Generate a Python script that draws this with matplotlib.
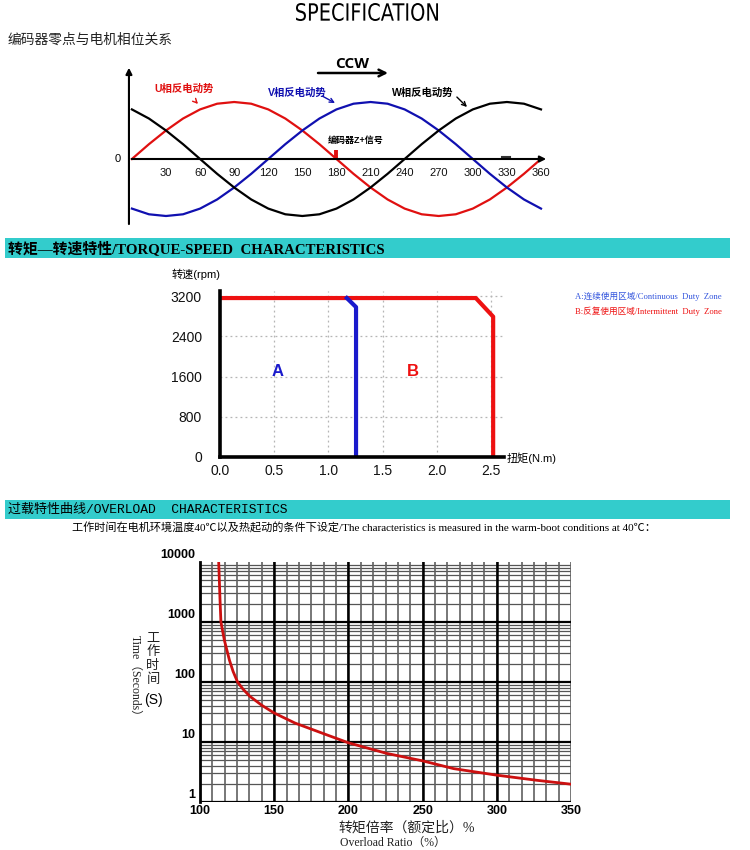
import numpy as np
import matplotlib
matplotlib.use('Agg')
import matplotlib.pyplot as plt
from matplotlib.patches import Rectangle, PathPatch
from matplotlib.textpath import TextPath
from matplotlib.font_manager import FontProperties
from matplotlib.transforms import Affine2D, IdentityTransform, ScaledTranslation

plt.rcParams['font.family'] = ['Liberation Sans', 'Noto Sans CJK SC', 'DejaVu Sans']

W, H = 750, 850

# --- phase diagram (back EMF, read every 15 deg) ---
phase_deg = [0, 15, 30, 45, 60, 75, 90, 105, 120, 135, 150, 165, 180,
             195, 210, 225, 240, 255, 270, 285, 300, 315, 330, 345, 360]
u_emf = [0, 0.26, 0.50, 0.71, 0.87, 0.97, 1.00, 0.97, 0.87, 0.71, 0.50, 0.26, 0,
         -0.26, -0.50, -0.71, -0.87, -0.97, -1.00, -0.97, -0.87, -0.71, -0.50, -0.26, 0]
v_emf = [-0.87, -0.97, -1.00, -0.97, -0.87, -0.71, -0.50, -0.26, 0, 0.26, 0.50, 0.71, 0.87,
         0.97, 1.00, 0.97, 0.87, 0.71, 0.50, 0.26, 0, -0.26, -0.50, -0.71, -0.87]
w_emf = [0.87, 0.71, 0.50, 0.26, 0, -0.26, -0.50, -0.71, -0.87, -0.97, -1.00, -0.97, -0.87,
         -0.71, -0.50, -0.26, 0, 0.26, 0.50, 0.71, 0.87, 0.97, 1.00, 0.97, 0.87]
deg_ticks = [30, 60, 90, 120, 150, 180, 210, 240, 270, 300, 330, 360]

# --- torque-speed ---
torque_ticks = [0.0, 0.5, 1.0, 1.5, 2.0, 2.5]
speed_ticks = [0, 800, 1600, 2400, 3200]
cont_torque = [1.17, 1.255, 1.255]
cont_speed = [3160, 2980, 0]
peak_torque = [0, 2.36, 2.52, 2.52]
peak_speed = [3160, 3160, 2790, 0]

# --- overload ---
ratio = [112.6, 113.5, 114.1, 116.4, 119.8, 122.3, 125.3, 129, 133.5, 141.6, 149.9,
         164, 186, 200, 225.9, 250, 270.9, 300, 327, 350]
op_time = [10000, 2300, 1000, 500, 233, 150, 100, 76, 58, 41, 30.5,
           20.7, 13, 9.7, 6.45, 4.85, 3.6, 2.8, 2.3, 1.98]
ratio_ticks = [100, 150, 200, 250, 300, 350]
time_ticks = [1, 10, 100, 1000, 10000]


def rect(l, t, r, b):
    return [l / W, 1 - b / H, (r - l) / W, (b - t) / H]


def fp(x, y):
    return (x, H - y)


fig = plt.figure(figsize=(7.5, 8.5), dpi=100)

# title, squeezed to the narrow look of the original
tp = TextPath((0, 0), 'SPECIFICATION', size=20, prop=FontProperties(family='DejaVu Sans'))
ext = tp.get_extents()
tr = Affine2D().translate(-ext.x0, -ext.y0).scale(142 / ext.width, 18 / ext.height).translate(296, H - 21)
fig.add_artist(PathPatch(tr.transform_path(tp), facecolor='black', edgecolor='none',
                         transform=IdentityTransform()))

fig.text(8 / W, 1 - 40 / H, '编码器零点与电机相位关系', fontsize=9.9,
         family=['Noto Sans CJK SC'], va='center', color='#222222')

# ---------------- phase chart ----------------
ax0 = fig.add_axes(rect(100, 50, 560, 232))
ax0.set_xlim((100 - 131.9) / 1.1364, (560 - 131.9) / 1.1364)
ax0.set_ylim((159 - 232) / 57, (159 - 50) / 57)
ax0.axis('off')

ax0.plot(phase_deg, u_emf, color='#e01010', lw=1.6)
ax0.plot(phase_deg, v_emf, color='#1010b0', lw=1.6)
ax0.plot(phase_deg, w_emf, color='black', lw=1.6)

ax0.annotate('', xy=(367, 0), xytext=(-2.6, 0),
             arrowprops=dict(arrowstyle='-|>', color='black', lw=1.5, mutation_scale=9))
ax0.annotate('', xy=(-2.6, 1.65), xytext=(-2.6, -1.19),
             arrowprops=dict(arrowstyle='-|>', color='black', lw=1.5, mutation_scale=9))
for d in deg_ticks:
    ax0.text(d, -0.25, str(d), ha='center', va='center', fontsize=8, color='#111111')
ax0.text(-12.5, 0, '0', ha='center', va='center', fontsize=8)
ax0.plot([180, 180], [0, 0.16], color='#e01010', lw=2.8, solid_capstyle='butt')
ax0.plot([325.7, 332.7], [0.035, 0.035], color='#333333', lw=1.5)

bold_cjk = dict(fontweight='bold', family=['Liberation Sans', 'Noto Sans CJK SC'])
ax0.annotate('U相反电动势', xy=fp(198, 104), xytext=fp(184, 89), xycoords='figure pixels',
             textcoords='figure pixels', ha='center', va='center', fontsize=7.5,
             color='#e01010', arrowprops=dict(arrowstyle='->', color='#e01010', lw=1.0,
                                              shrinkA=5, shrinkB=0), **bold_cjk)
ax0.annotate('V相反电动势', xy=fp(335, 103), xytext=fp(297, 93), xycoords='figure pixels',
             textcoords='figure pixels', ha='center', va='center', fontsize=7.5,
             color='#1010b0', arrowprops=dict(arrowstyle='->', color='#1010b0', lw=1.0,
                                              shrinkA=0, shrinkB=0,
                                              patchA=None, relpos=(0.93, 0.2)), **bold_cjk)
ax0.annotate('W相反电动势', xy=fp(467, 107), xytext=fp(423, 93), xycoords='figure pixels',
             textcoords='figure pixels', ha='center', va='center', fontsize=7.5,
             color='black', arrowprops=dict(arrowstyle='->', color='black', lw=1.0,
                                            shrinkA=0, shrinkB=0, relpos=(1.05, 0.1)), **bold_cjk)
fig.text(356 / W, 1 - 140 / H, '编码器Z+信号', ha='center', va='center', fontsize=6.5, **bold_cjk)
fig.text(352 / W, 1 - 64 / H, 'CCW', ha='center', va='center', fontsize=11, fontweight='bold',
         family=['Open Sans', 'DejaVu Sans'])
ax0.annotate('', xy=fp(388, 73), xytext=fp(318, 73), xycoords='figure pixels',
             textcoords='figure pixels',
             arrowprops=dict(arrowstyle='->', color='black', lw=1.8, mutation_scale=12,
                             shrinkA=0, shrinkB=0))

# ---------------- section bars ----------------
teal = '#33cccc'
fig.add_artist(Rectangle((5 / W, 1 - 258 / H), 725 / W, 20 / H, transform=fig.transFigure,
                         facecolor=teal, edgecolor='none'))
fig.text(8 / W, 1 - 248.5 / H, '转矩—转速特性/TORQUE-SPEED  CHARACTERISTICS', fontsize=10.7,
         fontweight='bold', va='center', family=['Liberation Serif', 'Noto Sans CJK SC'])
fig.add_artist(Rectangle((5 / W, 1 - 519 / H), 725 / W, 19 / H, transform=fig.transFigure,
                         facecolor=teal, edgecolor='none'))
fig.text(8 / W, 1 - 509.5 / H, '过载特性曲线/OVERLOAD  CHARACTERISTICS', fontsize=9.4,
         va='center', family=['Liberation Mono', 'Noto Sans CJK SC'])
fig.text(72 / W, 1 - 528 / H,
         '工作时间在电机环境温度40℃以及热起动的条件下设定/The characteristics is measured in the warm-boot conditions at 40℃：',
         fontsize=8.0, va='center', family=['Liberation Serif', 'Noto Sans CJK SC'])

# ---------------- torque-speed chart ----------------
ax1 = fig.add_axes(rect(220, 291, 504, 457))
ax1.set_xlim(0, 2.62)
ax1.set_ylim(0, 3300)
ax1.set_xticks(torque_ticks)
ax1.set_xticklabels([f'{t:.1f}' for t in torque_ticks])
ax1.set_yticks(speed_ticks)
ax1.grid(True, color='#b5b5b5', linestyle=(0, (1.5, 2.5)), linewidth=0.9)
ax1.tick_params(axis='both', length=0, labelsize=10, labelcolor='#111111')
ax1.tick_params(axis='y', pad=13)
ax1.tick_params(axis='x', pad=5)
for s in ['top', 'right']:
    ax1.spines[s].set_visible(False)
for s in ['left', 'bottom']:
    ax1.spines[s].set_linewidth(2.6)
    ax1.spines[s].set_zorder(5)
ax1.plot(peak_torque, peak_speed, color='#ee1111', lw=3, zorder=3)
ax1.plot(cont_torque, cont_speed, color='#1a1acc', lw=3, zorder=4)
ax1.text(0.53, 1700, 'A', color='#1a1acc', fontsize=12, fontweight='bold', ha='center', va='center')
ax1.text(1.78, 1700, 'B', color='#ee1111', fontsize=12, fontweight='bold', ha='center', va='center')
fig.text(172 / W, 1 - 274 / H, '转速(rpm)', fontsize=8, va='center',
         family=['Liberation Sans', 'Noto Sans CJK SC'])
fig.text(507 / W, 1 - 458 / H, '扭矩(N.m)', fontsize=8, va='center',
         family=['Liberation Sans', 'Noto Sans CJK SC'])
serif_cjk = ['Liberation Serif', 'Noto Sans CJK SC']
fig.text(575 / W, 1 - 296 / H, 'A:连续使用区域/Continuous  Duty  Zone', fontsize=6.2,
         color='#3355dd', va='center', family=serif_cjk)
fig.text(575 / W, 1 - 311 / H, 'B:反复使用区域/Intermittent  Duty  Zone', fontsize=6.2,
         color='#ee1111', va='center', family=serif_cjk)

# ---------------- overload chart ----------------
ax2 = fig.add_axes(rect(200, 562, 571, 802))
ax2.set_yscale('log')
ax2.set_xlim(100, 350)
ax2.set_ylim(1, 10000)
for s in ['top', 'right', 'bottom']:
    ax2.spines[s].set_visible(False)
ax2.spines['left'].set_linewidth(2)

minor_y = [m * 10 ** e for e in range(4) for m in range(2, 10)]
for yv in minor_y:
    ax2.axhline(yv, color='#555555', lw=0.9, zorder=1)
for yv in time_ticks[:-1]:
    ax2.axhline(yv, color='black', lw=1.6, zorder=2)
minor_x = [100 + k * 50 / 6 for k in range(1, 31)]
for xv in minor_x:
    ax2.axvline(xv, color='#606060', lw=1.2, zorder=1)
for xv in ratio_ticks[1:-1]:
    ax2.axvline(xv, color='black', lw=1.8, zorder=2)

ax2.plot(ratio, op_time, color='#cc1010', lw=2, zorder=4)

ax2.set_xticks(ratio_ticks)
ax2.set_xticklabels([str(r) for r in ratio_ticks])
ax2.set_yticks(time_ticks)
ax2.set_yticklabels([str(t) for t in time_ticks])
ax2.minorticks_off()
ax2.tick_params(axis='both', length=0, labelsize=9)
ax2.tick_params(axis='y', pad=3.5)
ax2.tick_params(axis='x', pad=2.5)
for lab in ax2.get_xticklabels() + ax2.get_yticklabels():
    lab.set_fontweight('bold')
for lab in ax2.get_yticklabels():
    lab.set_transform(lab.get_transform() + ScaledTranslation(0, 9 / 100, fig.dpi_scale_trans))

for i, ch in enumerate('工作时间'):
    fig.text(153 / W, 1 - (638 + 14 * i) / H, ch, fontsize=9.5, ha='center', va='center',
             family=['Noto Sans CJK SC'], color='#222222')
fig.text(153 / W, 1 - 700 / H, '(S)', fontsize=10, ha='center', va='center')
fig.text(135 / W, 1 - 678 / H, 'Time（Seconds）', fontsize=8.5, ha='center', va='center',
         rotation=-90, family=serif_cjk, color='#222222')
fig.text(407 / W, 1 - 828 / H, '转矩倍率（额定比）%', fontsize=10, ha='center', va='center',
         family=serif_cjk, color='#222222')
fig.text(393 / W, 1 - 843 / H, 'Overload Ratio（%）', fontsize=8.5, ha='center', va='center',
         family=serif_cjk, color='#222222')

fig.savefig('out.png', dpi=100)
